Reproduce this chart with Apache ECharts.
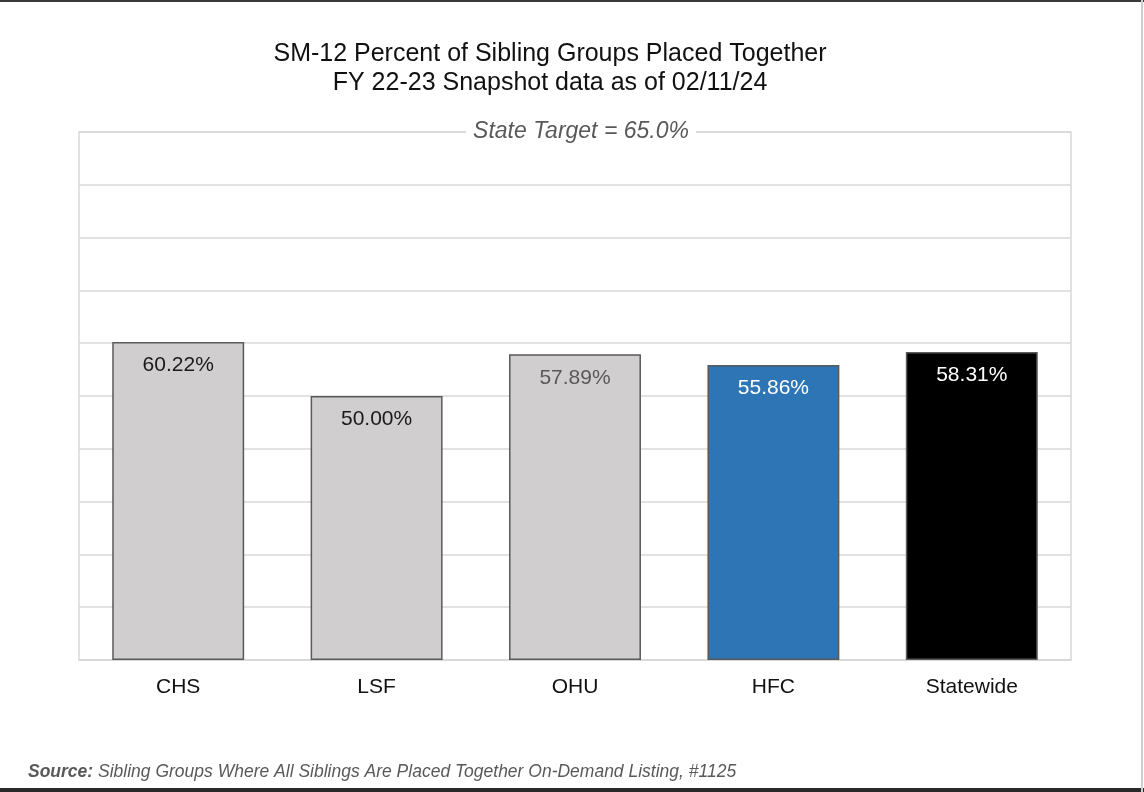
<!DOCTYPE html>
<html>
<head>
<meta charset="utf-8">
<script src="https://cdn.jsdelivr.net/npm/echarts@6/dist/echarts.min.js"></script>
<style>
html,body{margin:0;padding:0;background:#fff;}
#chart{width:1144px;height:792px;}
</style>
</head>
<body>
<div id="chart"></div>
<script>
const categories = ['CHS', 'LSF', 'OHU', 'HFC', 'Statewide'];
const values = [60.22, 50.00, 57.89, 55.86, 58.31];
const barColors = ['#d0cece', '#d0cece', '#d0cece', '#2e75b6', '#000000'];
const labelColors = ['#1a1a1a', '#1a1a1a', '#595959', '#ffffff', '#ffffff'];
const yTicks = [0, 10, 20, 30, 40, 50, 60, 70, 80, 90, 100];
const titleLines = ['SM-12 Percent of Sibling Groups Placed Together', 'FY 22-23 Snapshot data as of 02/11/24'];
const targetText = 'State Target = 65.0%';
const sourceLabel = 'Source:';
const sourceText = ' Sibling Groups Where All Siblings Are Placed Together On-Demand Listing, #1125';

const chart = echarts.init(document.getElementById('chart'), null, {renderer: 'canvas'});
const FONT = '"Liberation Sans", Arial, sans-serif';

chart.setOption({
  backgroundColor: '#ffffff',
  animation: false,
  textStyle: {fontFamily: FONT},
  title: {
    text: titleLines.join('\n'),
    left: 545,
    textAlign: 'center',
    top: 35,
    textStyle: {fontFamily: FONT, fontSize: 25, fontWeight: 'normal', color: '#111111', lineHeight: 29}
  },
  grid: {
    left: 79, right: 73, top: 132, bottom: 132,
    show: true, borderColor: '#d9d9d9', borderWidth: 1.5, backgroundColor: 'transparent'
  },
  xAxis: {
    type: 'category',
    data: categories,
    axisLine: {show: true, lineStyle: {color: '#d9d9d9', width: 1.5}},
    axisTick: {show: false},
    axisLabel: {fontFamily: FONT, fontSize: 21, color: '#111111', margin: 17}
  },
  yAxis: {
    type: 'value',
    min: yTicks[0],
    max: yTicks[yTicks.length - 1],
    interval: yTicks[1] - yTicks[0],
    axisLabel: {show: false},
    axisLine: {show: false},
    axisTick: {show: false},
    splitLine: {lineStyle: {color: '#d9d9d9', width: 1.5}}
  },
  series: [{
    type: 'bar',
    barWidth: '66.5%',
    data: values.map((v, i) => ({
      value: v,
      itemStyle: {color: barColors[i], borderColor: '#5a5a5a', borderWidth: 1.5},
      label: {color: labelColors[i]}
    })),
    label: {
      show: true,
      position: 'insideTop',
      distance: 13,
      fontFamily: FONT,
      fontSize: 21,
      formatter: p => p.value.toFixed(2) + '%'
    }
  }],
  graphic: [
    {type: 'text', x: 581, y: 132, z: 100,
     style: {text: targetText, textAlign: 'center', textVerticalAlign: 'middle',
       font: 'italic 23px ' + FONT, fill: '#595959', backgroundColor: '#ffffff', padding: [2, 7]}},
    {type: 'text', x: 28, y: 772, z: 100,
     style: {rich: {b: {fontFamily: FONT, fontSize: 17.5, fontStyle: 'italic', fontWeight: 'bold', fill: '#595959', color: '#595959'},
                    n: {fontFamily: FONT, fontSize: 17.5, fontStyle: 'italic', fill: '#595959', color: '#595959'}},
       text: '{b|' + sourceLabel + '}{n|' + sourceText + '}', textVerticalAlign: 'middle'}},
    {type: 'rect', shape: {x: 0, y: 0, width: 1144, height: 2}, style: {fill: '#3a3a3a'}},
    {type: 'rect', shape: {x: 0, y: 788, width: 1144, height: 4}, style: {fill: '#2a2a2a'}},
    {type: 'rect', shape: {x: 1141, y: 0, width: 2, height: 792}, style: {fill: '#cfcfcf'}}
  ]
});
</script>
</body>
</html>
